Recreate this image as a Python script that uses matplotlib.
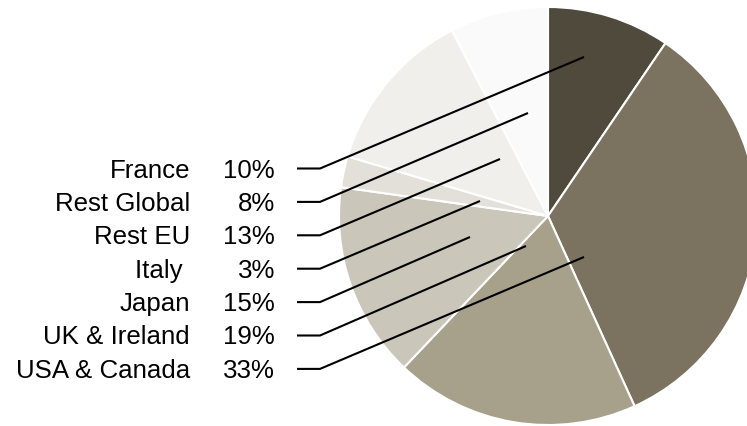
import matplotlib
matplotlib.use("Agg")
import matplotlib.pyplot as plt

# Slices, clockwise from 12 o'clock (shares).
slice_names = ["France", "USA & Canada", "UK & Ireland", "Japan", "Italy", "Rest EU", "Rest Global"]
slice_shares = [9.5, 33.7, 18.9, 15.1, 2.4, 12.8, 7.6]
slice_colors = ["#4f4a3c", "#7b725f", "#a7a08a", "#cbc6ba", "#e3e0d9", "#f0efeb", "#fafafa"]

# Label table, top to bottom.
label_names = ["France", "Rest Global", "Rest EU", "Italy ", "Japan", "UK & Ireland", "USA & Canada"]
label_pcts = ["10%", "8%", "13%", "3%", "15%", "19%", "33%"]

W, H = 747, 427
plt.rcParams['font.family'] = ['Liberation Sans', 'DejaVu Sans']

fig = plt.figure(figsize=(W/100., H/100.), dpi=100)
ax = fig.add_axes([0, 0, 1, 1])

cx, cy, r = 548, H - 217, 209
ax.pie(slice_shares, colors=slice_colors, startangle=90, counterclock=False,
       center=(cx, cy), radius=r,
       wedgeprops=dict(edgecolor="white", linewidth=1.5))

# Leader line tips inside the pie (pixels from top left), same order as the labels.
tips = [(584, 58), (528, 114), (500, 160), (480, 202), (470, 238), (526, 247), (584, 258)]
row0, step = 169.5, 33.4
for i in range(len(label_names)):
	y = H - (row0 + i*step)
	ax.text(190, y - 1, label_names[i], ha="right", va="center", fontsize=18.6, color="black")
	ax.text(275, y - 1, label_pcts[i], ha="right", va="center", fontsize=18.6, color="black")
	tx, ty = tips[i]
	ax.plot([297, 320, tx], [y, y, H - ty], color="black", linewidth=1.5, solid_capstyle="butt")

ax.set_xlim(0, W)
ax.set_ylim(0, H)
ax.set_aspect("auto")
ax.axis("off")
fig.savefig("out.png", dpi=100)
